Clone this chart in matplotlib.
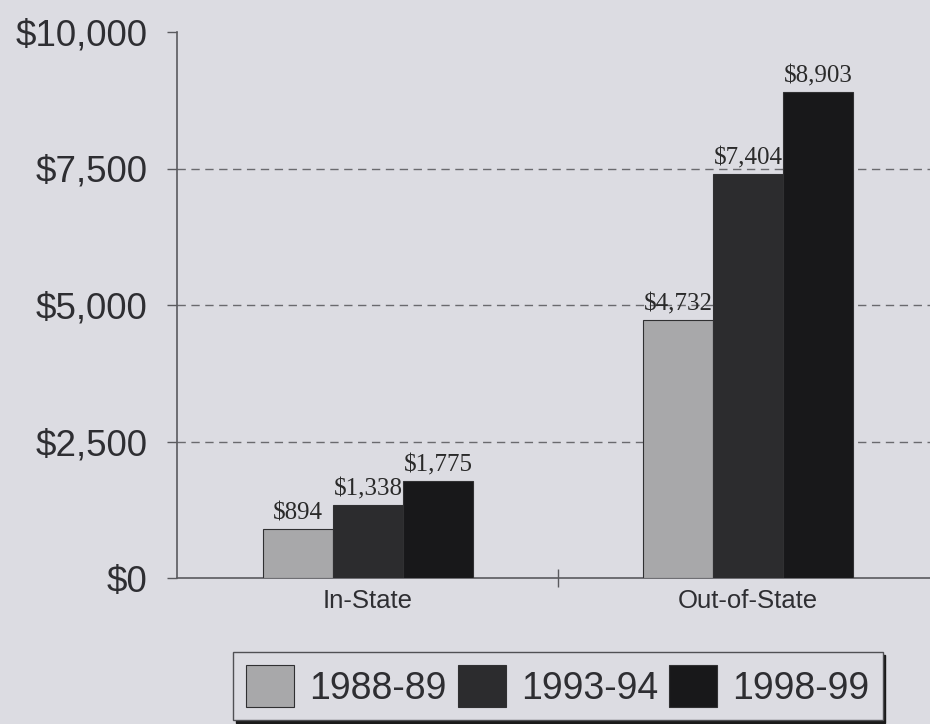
import numpy as np
import matplotlib.pyplot as plt

# Datos del gráfico
categories = ["In-State", "Out-of-State"]
years = ["1988-89", "1993-94", "1998-99"]
tuition_1988 = [894, 4732]
tuition_1993 = [1338, 7404]
tuition_1998 = [1775, 8903]
y_ticks = [0, 2500, 5000, 7500, 10000]
y_labels = ["$0", "$2,500", "$5,000", "$7,500", "$10,000"]

BG = "#dcdce2"
BAR_COLORS = ["#a8a8aa", "#2c2c2e", "#18181a"]
AXIS_COLOR = "#5a5a5e"


def main():
    series = [tuition_1988, tuition_1993, tuition_1998]

    fig = plt.figure(figsize=(9.3, 7.24), dpi=100, facecolor=BG)
    ax = fig.add_axes([177 / 930, 146 / 724, 753 / 930, 546 / 724])
    ax.set_facecolor(BG)

    x = np.arange(len(categories))
    width = 0.184
    offsets = [-width, 0, width]

    handles = []
    for vals, off, col, lab in zip(series, offsets, BAR_COLORS, years):
        bars = ax.bar(x + off, vals, width, color=col, edgecolor="#303032",
                      linewidth=0.8, label=lab, zorder=3)
        handles.append(bars)
        for b, v in zip(bars, vals):
            ax.text(b.get_x() + b.get_width() / 2, v + 80, f"${v:,}",
                    ha="center", va="bottom", fontsize=18,
                    family="Liberation Serif", color="#2a2a2a", zorder=4)

    # Ejes
    ax.set_xlim(-0.503, 1.479)
    ax.set_ylim(0, 10000)
    ax.set_yticks(y_ticks)
    ax.set_yticklabels(y_labels, fontsize=26.5, family="Liberation Sans",
                       color="#2e2e32")
    ax.tick_params(axis="y", direction="out", length=7, width=1,
                   color=AXIS_COLOR, pad=14)

    ax.set_xticks([0.5])
    ax.set_xticklabels([])
    ax.set_xticks(x, minor=True)
    ax.set_xticklabels(categories, minor=True, fontsize=18.5,
                       family="Liberation Sans", color="#2e2e32")
    ax.tick_params(axis="x", which="major", direction="inout", length=13,
                   width=1, color=AXIS_COLOR)
    ax.tick_params(axis="x", which="minor", length=0, pad=8)

    for side in ["top", "right"]:
        ax.spines[side].set_visible(False)
    for side in ["left", "bottom"]:
        ax.spines[side].set_color(AXIS_COLOR)
        ax.spines[side].set_linewidth(1.2)

    # Líneas de guía discontinuas
    ax.yaxis.grid(True, color="#6a6a6e", linewidth=1, dashes=(6, 4), zorder=1)
    ax.set_axisbelow(True)
    grid = ax.yaxis.get_gridlines()
    grid[0].set_visible(False)
    grid[-1].set_visible(False)

    # Leyenda
    leg = fig.legend(handles=handles, labels=years, loc="upper left",
                     bbox_to_anchor=(233 / 930, 1 - 652 / 724), ncol=3,
                     prop={"family": "Liberation Sans", "size": 27},
                     handlelength=1.28, handleheight=1.35, handletextpad=0.4,
                     columnspacing=0.3, borderpad=0.35, borderaxespad=0,
                     frameon=True, fancybox=False,
                     shadow={"ox": 2, "oy": -2, "color": "#1a1a1a", "alpha": 1})
    frame = leg.get_frame()
    frame.set_facecolor(BG)
    frame.set_edgecolor("#505054")
    frame.set_linewidth(1)
    for t in leg.get_texts():
        t.set_color("#2e2e32")

    fig.savefig("out.png", dpi=100, facecolor=BG)
    plt.close(fig)


if __name__ == "__main__":
    main()
